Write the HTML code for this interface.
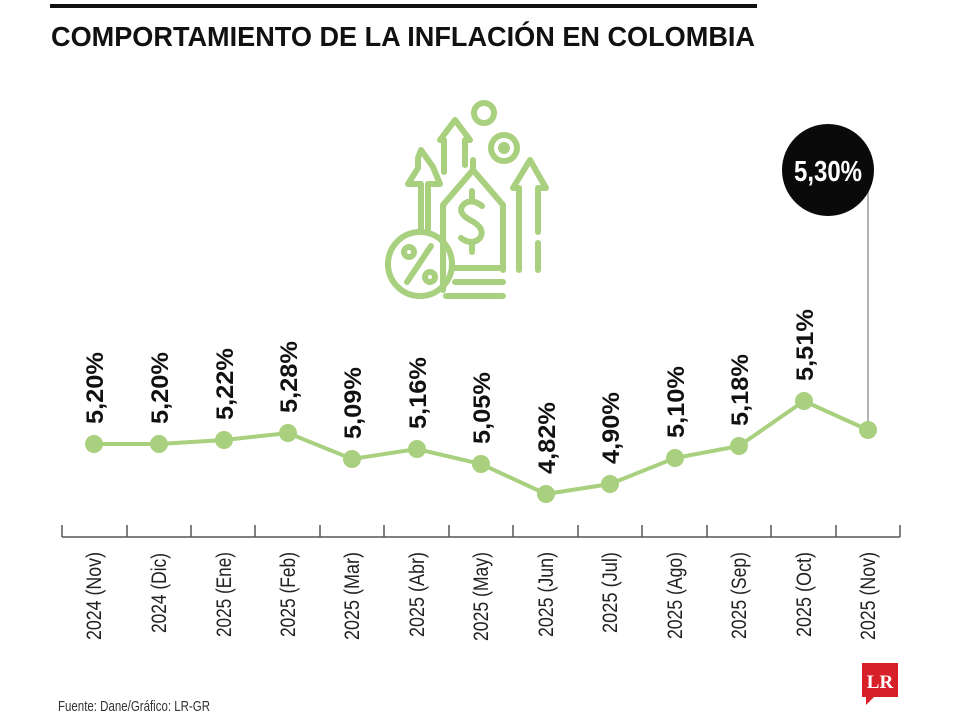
<!DOCTYPE html>
<html><head><meta charset="utf-8"><style>
html,body{margin:0;padding:0;background:#fff;}
svg{display:block;font-family:"Liberation Sans",sans-serif;}
</style></head><body>
<svg width="960" height="720" viewBox="0 0 960 720" xmlns="http://www.w3.org/2000/svg">
<rect x="50" y="4" width="707" height="4" fill="#111"/>
<text x="51" y="46" font-size="28" font-weight="bold" fill="#111" textLength="704" lengthAdjust="spacingAndGlyphs">COMPORTAMIENTO DE LA INFLACIÓN EN COLOMBIA</text>

<!-- icon -->
<g fill="none" stroke="#a8d07e" stroke-width="6" stroke-linecap="round" stroke-linejoin="round">
<circle cx="484" cy="113" r="10"/>
<circle cx="504" cy="148" r="13"/>
<circle cx="504" cy="148" r="3"/>
<path d="M421 229 V184 H408 L418 168 L418 158 L421 150 L433 167 L440 184 H428 V229"/>
<path d="M444 172 V140 H440 L455 120 L470 140 H465 V165"/>
<path d="M519 270 V188 H513 L530 160 L546 188 H538 V232 M538 243 V270 Z"/>
<path d="M443 290 V205 L473 170 L503 205 V270"/>
<path d="M473 160 V172"/>
<path d="M482 206 Q472 198 464 204 Q456 212 470 220 Q486 228 480 238 Q472 246 461 238 M472 198 V191 M472 246 V252"/>
<path d="M455 268 H503 M455 282 H503 M446 296 H503"/>
<circle cx="420" cy="264" r="32"/>
<path d="M407 282 L431 246"/>
<circle cx="409" cy="252" r="5"/>
<circle cx="430" cy="277" r="5"/>
</g>

<!-- axis -->
<g stroke="#555" stroke-width="1.5">
<line x1="62" y1="537" x2="900" y2="537"/>
<line x1="62" y1="525" x2="62" y2="537"/><line x1="127" y1="525" x2="127" y2="537"/><line x1="191" y1="525" x2="191" y2="537"/><line x1="255" y1="525" x2="255" y2="537"/><line x1="320" y1="525" x2="320" y2="537"/><line x1="384" y1="525" x2="384" y2="537"/><line x1="449" y1="525" x2="449" y2="537"/><line x1="513" y1="525" x2="513" y2="537"/><line x1="578" y1="525" x2="578" y2="537"/><line x1="642" y1="525" x2="642" y2="537"/><line x1="707" y1="525" x2="707" y2="537"/><line x1="771" y1="525" x2="771" y2="537"/><line x1="836" y1="525" x2="836" y2="537"/><line x1="900" y1="525" x2="900" y2="537"/>
</g>

<line x1="868" y1="190" x2="868" y2="428" stroke="#999" stroke-width="1.5"/>
<circle cx="828" cy="170" r="46" fill="#0a0a0a"/>
<text x="828" y="181" font-size="29" font-weight="bold" fill="#fff" text-anchor="middle" textLength="68" lengthAdjust="spacingAndGlyphs">5,30%</text>

<polyline fill="none" stroke="#a8d07e" stroke-width="4" points="94,444 159,444 224,440 288,433 352,459 417,449 481,464 546,494 610,484 675,458 739,446 804,401 868,430"/>
<g fill="#a8d07e">
<circle cx="94" cy="444" r="9"/><circle cx="159" cy="444" r="9"/><circle cx="224" cy="440" r="9"/><circle cx="288" cy="433" r="9"/><circle cx="352" cy="459" r="9"/><circle cx="417" cy="449" r="9"/><circle cx="481" cy="464" r="9"/><circle cx="546" cy="494" r="9"/><circle cx="610" cy="484" r="9"/><circle cx="675" cy="458" r="9"/><circle cx="739" cy="446" r="9"/><circle cx="804" cy="401" r="9"/><circle cx="868" cy="430" r="9"/>
</g>

<g font-size="24" font-weight="bold" fill="#111">
<text transform="translate(103,424) rotate(-90)" textLength="72" lengthAdjust="spacingAndGlyphs">5,20%</text>
<text transform="translate(168,424) rotate(-90)" textLength="72" lengthAdjust="spacingAndGlyphs">5,20%</text>
<text transform="translate(233,420) rotate(-90)" textLength="72" lengthAdjust="spacingAndGlyphs">5,22%</text>
<text transform="translate(297,413) rotate(-90)" textLength="72" lengthAdjust="spacingAndGlyphs">5,28%</text>
<text transform="translate(361,439) rotate(-90)" textLength="72" lengthAdjust="spacingAndGlyphs">5,09%</text>
<text transform="translate(426,429) rotate(-90)" textLength="72" lengthAdjust="spacingAndGlyphs">5,16%</text>
<text transform="translate(490,444) rotate(-90)" textLength="72" lengthAdjust="spacingAndGlyphs">5,05%</text>
<text transform="translate(555,474) rotate(-90)" textLength="72" lengthAdjust="spacingAndGlyphs">4,82%</text>
<text transform="translate(619,464) rotate(-90)" textLength="72" lengthAdjust="spacingAndGlyphs">4,90%</text>
<text transform="translate(684,438) rotate(-90)" textLength="72" lengthAdjust="spacingAndGlyphs">5,10%</text>
<text transform="translate(748,426) rotate(-90)" textLength="72" lengthAdjust="spacingAndGlyphs">5,18%</text>
<text transform="translate(813,381) rotate(-90)" textLength="72" lengthAdjust="spacingAndGlyphs">5,51%</text>
</g>

<g font-size="21" fill="#222">
<text transform="translate(101,640) rotate(-90)" textLength="88" lengthAdjust="spacingAndGlyphs">2024 (Nov)</text>
<text transform="translate(166,633) rotate(-90)" textLength="80" lengthAdjust="spacingAndGlyphs">2024 (Dic)</text>
<text transform="translate(231,637) rotate(-90)" textLength="85" lengthAdjust="spacingAndGlyphs">2025 (Ene)</text>
<text transform="translate(295,637) rotate(-90)" textLength="85" lengthAdjust="spacingAndGlyphs">2025 (Feb)</text>
<text transform="translate(359,640) rotate(-90)" textLength="88" lengthAdjust="spacingAndGlyphs">2025 (Mar)</text>
<text transform="translate(424,637) rotate(-90)" textLength="85" lengthAdjust="spacingAndGlyphs">2025 (Abr)</text>
<text transform="translate(488,641) rotate(-90)" textLength="89" lengthAdjust="spacingAndGlyphs">2025 (May)</text>
<text transform="translate(553,637) rotate(-90)" textLength="85" lengthAdjust="spacingAndGlyphs">2025 (Jun)</text>
<text transform="translate(617,633) rotate(-90)" textLength="81" lengthAdjust="spacingAndGlyphs">2025 (Jul)</text>
<text transform="translate(682,639) rotate(-90)" textLength="87" lengthAdjust="spacingAndGlyphs">2025 (Ago)</text>
<text transform="translate(746,639) rotate(-90)" textLength="87" lengthAdjust="spacingAndGlyphs">2025 (Sep)</text>
<text transform="translate(811,637) rotate(-90)" textLength="85" lengthAdjust="spacingAndGlyphs">2025 (Oct)</text>
<text transform="translate(875,640) rotate(-90)" textLength="88" lengthAdjust="spacingAndGlyphs">2025 (Nov)</text>
</g>

<text x="58" y="711" font-size="15" fill="#333" textLength="152" lengthAdjust="spacingAndGlyphs">Fuente: Dane/Gráfico: LR-GR</text>

<path d="M862 663 H898 V697 H874 L866 705 V697 H862 Z" fill="#d8202a"/>
<text x="880" y="688" font-family="Liberation Serif,serif" font-size="19" font-weight="bold" fill="#fff" text-anchor="middle">LR</text>
</svg>
</body></html>
